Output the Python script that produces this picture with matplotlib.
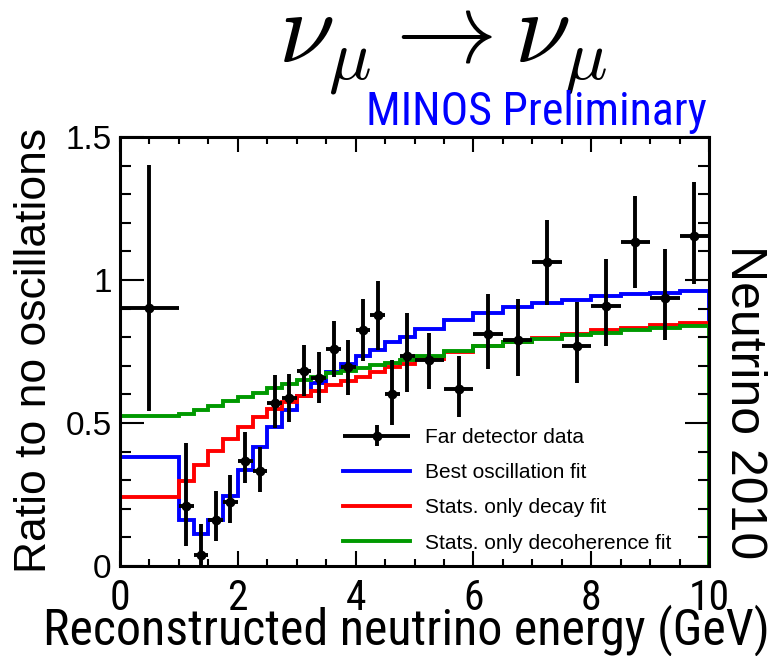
import numpy as np
import matplotlib.pyplot as plt
from matplotlib.ticker import MultipleLocator
from matplotlib.legend_handler import HandlerErrorbar

# bin edges (GeV): one wide bin, 0.25 GeV bins up to 5, 0.5 GeV bins up to 10
edges = [0.0, 1.0, 1.25, 1.5, 1.75, 2.0, 2.25, 2.5, 2.75, 3.0, 3.25, 3.5, 3.75,
         4.0, 4.25, 4.5, 4.75, 5.0, 5.5, 6.0, 6.5, 7.0, 7.5, 8.0, 8.5, 9.0, 9.5, 10.0]

# far detector data / no-oscillation prediction
data_ratio = [0.902, 0.210, 0.037, 0.160, 0.225, 0.368, 0.331, 0.569, 0.588,
              0.683, 0.658, 0.759, 0.697, 0.824, 0.876, 0.602, 0.733,
              0.719, 0.619, 0.810, 0.791, 1.062, 0.770, 0.908, 1.133, 0.938, 1.153]
err_up = [0.500, 0.219, 0.109, 0.103, 0.094, 0.099, 0.086, 0.099, 0.084,
          0.091, 0.090, 0.096, 0.094, 0.108, 0.121, 0.117, 0.151,
          0.095, 0.116, 0.140, 0.144, 0.147, 0.153, 0.167, 0.160, 0.171, 0.191]
err_down = [0.359, 0.140, 0.037, 0.072, 0.073, 0.079, 0.071, 0.086, 0.086,
            0.089, 0.089, 0.097, 0.099, 0.109, 0.120, 0.109, 0.126,
            0.100, 0.099, 0.122, 0.126, 0.151, 0.130, 0.140, 0.160, 0.149, 0.168]

best_osc = [0.380, 0.160, 0.111, 0.160, 0.244, 0.335, 0.417, 0.487, 0.546,
            0.594, 0.640, 0.678, 0.707, 0.735, 0.756, 0.782, 0.800,
            0.827, 0.861, 0.886, 0.905, 0.921, 0.931, 0.944, 0.950, 0.954, 0.960]
decay_fit = [0.240, 0.298, 0.353, 0.403, 0.444, 0.485, 0.522, 0.549, 0.572,
             0.594, 0.613, 0.633, 0.646, 0.662, 0.680, 0.695, 0.707,
             0.724, 0.748, 0.768, 0.784, 0.798, 0.812, 0.824, 0.833, 0.841, 0.849]
decoh_fit = [0.526, 0.532, 0.546, 0.561, 0.576, 0.592, 0.606, 0.623, 0.637,
             0.651, 0.662, 0.674, 0.683, 0.693, 0.702, 0.711, 0.721,
             0.733, 0.751, 0.768, 0.783, 0.795, 0.806, 0.816, 0.826, 0.833, 0.838]

edges = np.array(edges)
centers = 0.5 * (edges[:-1] + edges[1:])
half_w = 0.5 * np.diff(edges)

plt.rcParams['mathtext.fontset'] = 'cm'
plt.rcParams['font.family'] = ['Liberation Sans', 'DejaVu Sans']
narrow = ['Roboto Condensed', 'Liberation Sans']

fig = plt.figure(figsize=(7.82, 6.56), dpi=100)
ax = fig.add_axes([0.1535, 0.1372, 0.7532, 0.654])

ax.stairs(best_osc, edges, color='#0000ff', lw=2.8, label='Best oscillation fit')
ax.stairs(decay_fit, edges, color='#ff0000', lw=2.8, label='Stats. only decay fit')
ax.stairs(decoh_fit, edges, color='#009900', lw=2.8, label='Stats. only decoherence fit')
ax.errorbar(centers, data_ratio, xerr=half_w, yerr=[err_down, err_up],
            fmt='o', color='black', ms=6, elinewidth=2.8, capsize=0,
            label='Far detector data', zorder=5)

ax.set_xlim(0, 10)
ax.set_ylim(0, 1.5)
ax.xaxis.set_major_locator(MultipleLocator(2))
ax.xaxis.set_minor_locator(MultipleLocator(0.5))
ax.yaxis.set_major_locator(MultipleLocator(0.5))
ax.yaxis.set_minor_locator(MultipleLocator(0.1))
ax.xaxis.set_major_formatter(plt.FuncFormatter(lambda v, p: f'{v:g}'))
ax.yaxis.set_major_formatter(plt.FuncFormatter(lambda v, p: f'{v:g}'))
ax.tick_params(which='both', direction='in', top=True, right=True, width=1.5)
ax.tick_params(axis='x', which='major', length=11, labelsize=30, pad=9)
ax.tick_params(axis='x', which='minor', length=5)
ax.tick_params(axis='y', which='major', length=17, labelsize=24, pad=6)
ax.tick_params(axis='y', which='minor', length=8)
for lab in ax.get_xticklabels():
    lab.set_family(narrow)
for s in ax.spines.values():
    s.set_linewidth(2.2)

ax.set_xlabel('Reconstructed neutrino energy (GeV)', fontsize=36, family=narrow,
              va='baseline')
ax.xaxis.set_label_coords(0.486, -0.184)
ax.set_ylabel('Ratio to no oscillations', fontsize=32, va='center')
ax.yaxis.set_label_coords(-0.146, 0.503)

handles, labels = ax.get_legend_handles_labels()
order = [3, 0, 1, 2]
ax.legend([handles[i] for i in order], [labels[i] for i in order],
          loc='upper left', bbox_to_anchor=(0.379, 0.322), frameon=False,
          fontsize=15, handlelength=3.2, handletextpad=0.7, labelspacing=0.78,
          borderpad=0, borderaxespad=0,
          handler_map={type(handles[3]): HandlerErrorbar(xerr_size=1.6, yerr_size=0.5)})

fig.text(0.566, 0.9055, r'$\nu_\mu \rightarrow \nu_\mu$', fontsize=73,
         ha='center', va='baseline')
fig.text(0.904, 0.8095, 'MINOS Preliminary', color='#0000ff', fontsize=33,
         family=narrow, ha='right', va='baseline')
fig.text(0.951, 0.387, 'Neutrino 2010', fontsize=36, rotation=270,
         ha='center', va='center')

fig.savefig('out.png', dpi=100)
